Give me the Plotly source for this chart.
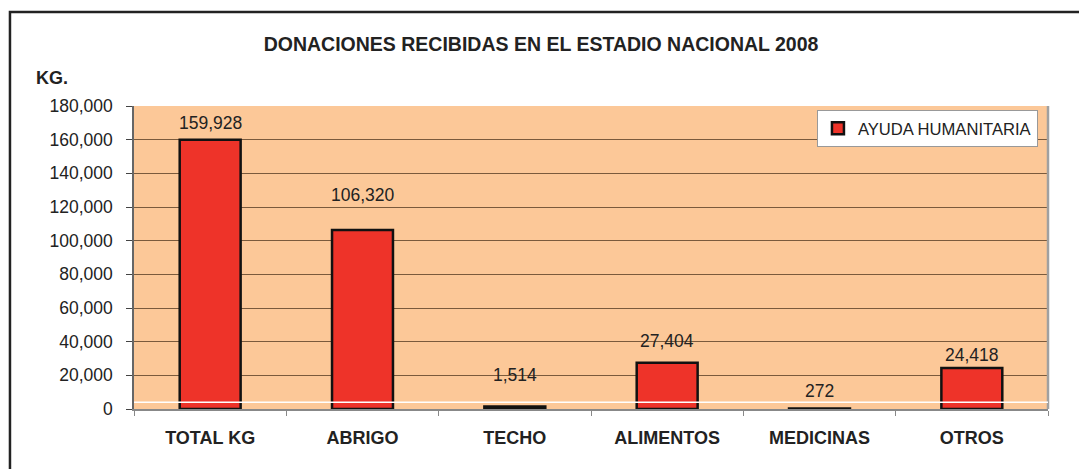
import plotly.graph_objects as go

categorias = ["TOTAL KG", "ABRIGO", "TECHO", "ALIMENTOS", "MEDICINAS", "OTROS"]
kilos = [159928, 106320, 1514, 27404, 272, 24418]
serie = "AYUDA HUMANITARIA"
y_ticks = [0, 20000, 40000, 60000, 80000, 100000, 120000, 140000, 160000, 180000]

# label offsets above each bar (px), as in the original
label_shift = [17, 35, 31, 22, 18, 13]

fig = go.Figure()
fig.add_trace(go.Bar(
    x=categorias, y=kilos, name=serie,
    marker=dict(color="#EE3329", line=dict(color="#111111", width=2.5)),
    width=0.4,
))

for cat, val, dy in zip(categorias, kilos, label_shift):
    fig.add_annotation(x=cat, y=val, text=f"{val:,}", showarrow=False,
                       yanchor="middle", yshift=dy,
                       font=dict(size=17.5, color="#222222"))

# page has an 8px body margin, so the figure is 8px smaller than the window
fig.update_layout(
    width=1079, height=461,
    margin=dict(l=126, r=39, t=98, b=60),
    paper_bgcolor="white",
    plot_bgcolor="#FCC898",
    font=dict(family="Liberation Sans, Arial", color="#222222"),
    title=dict(text="<b>DONACIONES RECIBIDAS EN EL ESTADIO NACIONAL 2008</b>",
               x=0.494, xanchor="center", y=0.922, yanchor="middle",
               font=dict(size=19.5, color="#222222")),
    showlegend=True,
    legend=dict(x=0.989, xanchor="right", y=0.987, yanchor="top",
                bgcolor="white", bordercolor="#999999", borderwidth=1,
                font=dict(size=16.6, color="#222222"),
                itemwidth=30, entrywidth=225, tracegroupgap=0),
    xaxis=dict(showgrid=False, ticks="outside", tickson="boundaries",
               ticklen=5, tickcolor="#888888",
               showline=True, linecolor="#888888", linewidth=2,
               tickfont=dict(size=18, color="#222222"),
               ticklabelstandoff=11, fixedrange=True),
    yaxis=dict(range=[0, 180000], tickvals=y_ticks,
               tickformat=",", ticks="outside", ticklen=6,
               tickcolor="#444444", ticklabelstandoff=10,
               showgrid=True, gridcolor="#7A5A3C", gridwidth=1,
               showline=True, linecolor="#666666", linewidth=1.5,
               mirror=False, zeroline=False,
               tickfont=dict(size=17.5, color="#222222")),
    bargap=0.6,
)

# x tick labels bold
fig.update_xaxes(ticktext=[f"<b>{c}</b>" for c in categorias], tickvals=categorias)

# right border of the plot area
fig.add_shape(type="line", xref="paper", yref="paper", x0=1, x1=1, y0=0, y1=1,
              line=dict(color="#A0A0A0", width=2.5))
# thin white line just above the baseline
fig.add_shape(type="line", xref="paper", yref="y", x0=0, x1=1, y0=4000, y1=4000,
              line=dict(color="white", width=1.5))
# outer chart frame
fig.add_shape(type="rect", xref="paper", yref="paper",
              x0=-0.1357, x1=1.2, y0=-0.4, y1=1.31,
              line=dict(color="#222222", width=2.5), layer="above")

fig.add_annotation(text="<b>KG.</b>", xref="paper", yref="paper",
                   x=-0.1094, y=1.0924, xanchor="left", yanchor="middle",
                   showarrow=False, font=dict(size=18, color="#222222"))

fig.write_html("out.html")
